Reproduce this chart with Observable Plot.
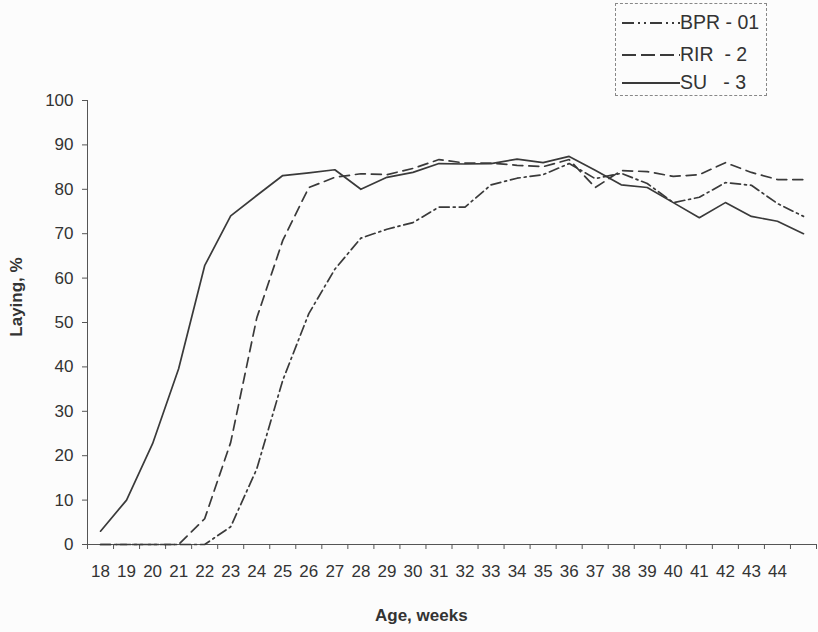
<!DOCTYPE html>
<html>
<head>
<meta charset="utf-8">
<script src="https://cdn.jsdelivr.net/npm/d3@7"></script>
<script src="https://cdn.jsdelivr.net/npm/@observablehq/plot@0.6"></script>
<style>
  html, body { margin: 0; padding: 0; background: #fcfcfc; }
  #wrap { position: relative; width: 818px; height: 632px; font-family: Arial, "Liberation Sans", sans-serif; color: #333; }
  .title { position: absolute; font-weight: bold; font-size: 17px; color: #333; white-space: nowrap; }
  #legend { position: absolute; left: 615px; top: 3px; width: 152px; height: 93px; border: 1px dashed #888; box-sizing: border-box; }
  .lrow { position: absolute; left: 6px; display: flex; align-items: center; font-size: 19.5px; line-height: 23px; color: #333; white-space: pre; }
</style>
</head>
<body>
<div id="wrap"></div>
<script>
// Age (weeks), category positions
const ages = [18,19,20,21,22,23,24,25,26,27,28,29,30,31,32,33,34,35,36,37,38,39,40,41,42,43,44,45];
// Tick labels shown on x axis
const xTickLabels = [18,19,20,21,22,23,24,25,26,27,28,29,30,31,32,33,34,35,36,37,38,39,40,41,42,43,44];
const yTicks = [0,10,20,30,40,50,60,70,80,90,100];

// Laying, % per line
const bpr = [0,0,0,0,0,4,17,37,52,62,69,71,72.5,76,76,81,82.5,83.3,85.8,82.4,83.6,81.3,77,78.2,81.5,80.9,76.8,73.9];
const rir = [0,0,0,0,5.8,23,51,68.5,80.4,82.7,83.5,83.3,84.7,86.7,85.9,85.9,85.4,85.1,86.7,80.4,84.2,84,82.9,83.3,86,83.8,82.2,82.2];
const su  = [3,10,22.7,39.6,62.8,74,78.6,83.1,83.7,84.4,80,82.7,83.8,85.8,85.7,85.8,86.8,86,87.4,84.3,81,80.4,77,73.6,77,73.9,72.8,70];

const seriesNames = ["BPR - 01", "RIR  - 2", "SU   - 3"];
const seriesValues = [bpr, rir, su];
const dashes = ["10,4,2,4", "10,6", null];
const lineColor = "#3a3a3a";

const xMin = ages[0] - 0.5, xMax = ages[ages.length - 1] + 0.5;
const boundaries = ages.map(a => a - 0.5).concat([xMax]);

const marks = [
  Plot.ruleY([0], {stroke: "#555", strokeWidth: 1}),
  Plot.ruleX([xMin], {y1: 0, y2: 100, stroke: "#555", strokeWidth: 1}),
  Plot.axisX({ticks: boundaries, tickSize: 5, tickFormat: () => "", stroke: "#555", label: null}),
  Plot.axisX({ticks: xTickLabels, tickSize: 0, tickPadding: 20, tickFormat: d => String(d), label: null, fontSize: 17, fill: "#333"}),
  Plot.axisY({ticks: yTicks, tickSize: 5, tickPadding: 9, label: null, fontSize: 17, fill: "#333", stroke: "#555"})
];
seriesValues.forEach((vals, i) => {
  const rows = ages.map((a, j) => ({age: a, v: vals[j]}));
  marks.push(Plot.line(rows, {x: "age", y: "v", stroke: lineColor, strokeWidth: 1.7, strokeDasharray: dashes[i] || undefined}));
});

const chart = Plot.plot({
  width: 818,
  height: 632,
  marginLeft: 87,
  marginRight: 2,
  marginTop: 100,
  marginBottom: 88,
  style: {fontFamily: "Arial, 'Liberation Sans', sans-serif", fontSize: "17px", background: "transparent", color: "#333"},
  x: {domain: [xMin, xMax]},
  y: {domain: [0, 100]},
  marks
});
const wrap = document.getElementById("wrap");
wrap.appendChild(chart);

// Axis titles
const xt = document.createElement("div");
xt.className = "title"; xt.textContent = "Age, weeks";
xt.style.left = "375px"; xt.style.top = "606px";
wrap.appendChild(xt);
const yt = document.createElement("div");
yt.className = "title"; yt.textContent = "Laying, %";
yt.style.left = "17px"; yt.style.top = "297px";
yt.style.transform = "translate(-50%, -50%) rotate(-90deg)";
wrap.appendChild(yt);

// Legend
const legend = document.createElement("div");
legend.id = "legend";
const rowTops = [7, 39, 67];
seriesNames.forEach((name, i) => {
  const row = document.createElement("div");
  row.className = "lrow";
  row.style.top = rowTops[i] + "px";
  const dash = i === 0 ? "12,4,2,4,2,4" : (i === 1 ? "14,5" : null);
  row.innerHTML = `<svg width="58" height="20"><line x1="0" y1="10" x2="58" y2="10" stroke="${lineColor}" stroke-width="2" ${dash ? `stroke-dasharray="${dash}"` : ""}/></svg><span>${name}</span>`;
  legend.appendChild(row);
});
wrap.appendChild(legend);
</script>
</body>
</html>
